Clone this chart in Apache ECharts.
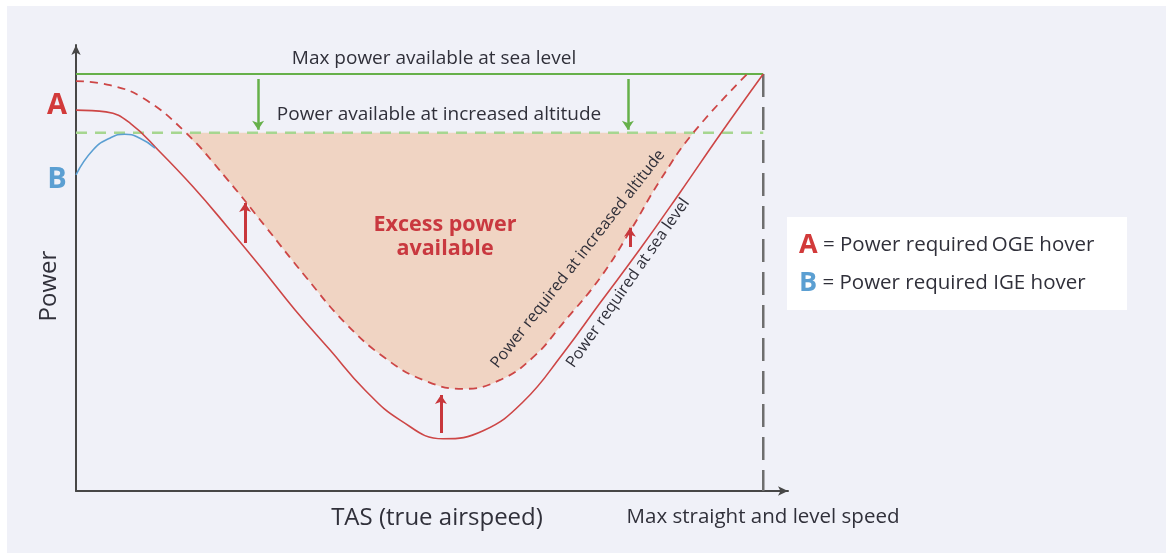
<!DOCTYPE html>
<html>
<head>
<meta charset="utf-8">
<script src="https://cdn.jsdelivr.net/npm/echarts@6/dist/echarts.min.js"></script>
<style>
html,body{margin:0;padding:0;background:#ffffff;}
#panel{position:absolute;left:7px;top:6px;width:1159px;height:547px;background:#f0f1f8;}
#chart{position:absolute;left:0;top:0;width:1166px;height:553px;}
</style>
</head>
<body>
<div id="panel"></div>
<div id="chart"></div>
<script>
// ---- data (abstract units: x = TAS, 100 = max straight & level speed; y = power) ----
const seaLevelAvail = 93.5;
const altitudeAvail = 80.3;
const maxSpeed = 100;

const reqSeaLevel = [
  [0,85.4],[4.37,85.0],[7.86,82.5],[12.23,76.0],[17.03,68.2],[21.83,59.6],[26.78,50.4],
  [31.88,40.6],[36.97,31.6],[42.07,22.6],[47.16,15.9],[53.42,11.7],[59.24,13.5],
  [65.07,20.0],[70.89,30.9],[76.27,42.2],[82.10,54.3],[87.92,67.0],[93.74,80.0],[100,93.5]
];
const reqAltitude = [
  [0,91.9],[4.95,91.0],[9.75,88.1],[15.87,80.5],[21.83,70.2],[27.51,59.4],[33.33,48.2],
  [39.16,37.7],[44.98,29.8],[50.51,24.9],[56.33,22.9],[61.72,24.9],[66.52,30.0],
  [70.89,37.7],[76.27,47.8],[80.64,58.3],[85.01,69.7],[89.81,80.3],[97.67,93.5]
];
const reqIGE = [
  [0,70.9],[2.5,76.5],[4.9,79.1],[7.1,80.0],[9.3,79.1],[11.5,76.9]
];
const arrowsDown = [
  [[26.5,92.4],[26.5,81.0]],
  [[80.3,92.4],[80.3,81.0]]
];
const arrowsUp = [
  [[24.6,55.6],[24.6,64.6]],
  [[53.1,13.0],[53.1,21.5]],
  [[80.6,54.7],[80.6,59.0]]
];

// ---- derived ----
const excessFill = reqAltitude.filter(p => p[1] <= altitudeAvail + 0.3);

const RED = '#cd4646';
const GREEN = '#66b04a';
const GREEN_L = '#a6d690';
const BLUE = '#5b9fd2';
const TXT = '#30303a';
const FONT = '"Open Sans", "Noto Sans", sans-serif';
const deg = Math.PI / 180;
const SM = 0.45;

const chart = echarts.init(document.getElementById('chart'), null, {renderer:'canvas'});
chart.setOption({
  backgroundColor: 'transparent',
  animation: false,
  grid: {left: 76, right: 378, top: 45, bottom: 62},
  xAxis: {
    type: 'value', min: 0, max: 103.6,
    axisLine: {show: true, onZero: false, symbol: ['none','arrow'], symbolSize: [7,10],
      lineStyle: {color: '#474747', width: 2}},
    axisTick: {show: false}, axisLabel: {show: false}, splitLine: {show: false}
  },
  yAxis: {
    type: 'value', min: 0, max: 100,
    axisLine: {show: true, onZero: false, symbol: ['none','arrow'], symbolSize: [7,10],
      lineStyle: {color: '#474747', width: 2}},
    axisTick: {show: false}, axisLabel: {show: false}, splitLine: {show: false}
  },
  series: [
    {
      type: 'line', name: 'excess', data: excessFill, smooth: SM, showSymbol: false,
      lineStyle: {width: 0, opacity: 0},
      areaStyle: {color: '#f0d4c3', opacity: 1, origin: altitudeAvail},
      z: 1, silent: true
    },
    {
      type: 'line', name: 'seaAvail', data: [[0,seaLevelAvail],[maxSpeed,seaLevelAvail]],
      showSymbol: false, lineStyle: {color: GREEN, width: 1.8}, z: 3
    },
    {
      type: 'line', name: 'altAvail', data: [[0,altitudeAvail],[maxSpeed,altitudeAvail]],
      showSymbol: false, lineStyle: {color: GREEN_L, width: 2.5, type: [11,8]}, z: 3
    },
    {
      type: 'line', name: 'reqAlt', data: reqAltitude, smooth: SM, showSymbol: false,
      lineStyle: {color: RED, width: 1.8, type: [8,6]}, z: 4
    },
    {
      type: 'line', name: 'reqSea', data: reqSeaLevel, smooth: SM, showSymbol: false,
      lineStyle: {color: RED, width: 1.6}, z: 4
    },
    {
      type: 'line', name: 'ige', data: reqIGE, smooth: 0.5, showSymbol: false,
      lineStyle: {color: BLUE, width: 1.6}, z: 4
    },
    {
      type: 'line', name: 'maxSpeed', data: [[maxSpeed,seaLevelAvail],[maxSpeed,0]],
      showSymbol: false, lineStyle: {color: '#6e6e6e', width: 2.5, type: [23,10]}, z: 3
    },
    {
      type: 'lines', coordinateSystem: 'cartesian2d', z: 5,
      symbol: ['none','arrow'], symbolSize: 9,
      lineStyle: {color: GREEN, width: 2.5, opacity: 1},
      data: arrowsDown.map(c => ({coords: c}))
    },
    {
      type: 'lines', coordinateSystem: 'cartesian2d', z: 5,
      symbol: ['none','arrow'], symbolSize: 9,
      lineStyle: {color: '#c8373c', width: 3, opacity: 1},
      data: arrowsUp.map(c => ({coords: c}))
    }
  ],
  graphic: [
    {type:'text', x:434, y:59, z:10, style:{text:'Max power available at sea level', font:'19px '+FONT, fill:TXT, align:'center', verticalAlign:'middle'}},
    {type:'text', x:439, y:115, z:10, style:{text:'Power available at increased altitude', font:'19px '+FONT, fill:TXT, align:'center', verticalAlign:'middle'}},
    {type:'text', x:445, y:225, z:10, style:{text:'Excess power', font:'bold 21.5px '+FONT, fill:'#c9383f', align:'center', verticalAlign:'middle'}},
    {type:'text', x:445, y:249, z:10, style:{text:'available', font:'bold 21.5px '+FONT, fill:'#c9383f', align:'center', verticalAlign:'middle'}},
    {type:'text', x:578, y:259, rotation:52*deg, z:10, style:{text:'Power required at increased altitude', font:'16px '+FONT, fill:TXT, align:'center', verticalAlign:'middle'}},
    {type:'text', x:628, y:283, rotation:55*deg, z:10, style:{text:'Power required at sea level', font:'16px '+FONT, fill:TXT, align:'center', verticalAlign:'middle'}},
    {type:'text', x:57, y:106, z:10, style:{text:'A', font:'bold 29px '+FONT, fill:'#d23a3a', align:'center', verticalAlign:'middle'}},
    {type:'text', x:57, y:180, z:10, style:{text:'B', font:'bold 29px '+FONT, fill:BLUE, align:'center', verticalAlign:'middle'}},
    {type:'text', x:49, y:286, rotation:90*deg, z:10, style:{text:'Power', font:'24px '+FONT, fill:TXT, align:'center', verticalAlign:'middle'}},
    {type:'text', x:437, y:518, z:10, style:{text:'TAS (true airspeed)', font:'24px '+FONT, fill:TXT, align:'center', verticalAlign:'middle'}},
    {type:'text', x:763, y:517, z:10, style:{text:'Max straight and level speed', font:'20.5px '+FONT, fill:TXT, align:'center', verticalAlign:'middle'}},
    {type:'rect', x:787, y:217, z:9, shape:{width:340, height:93}, style:{fill:'#ffffff'}},
    {type:'text', x:799, y:245, z:10, style:{
      text:'{a|A}{t| = Power required\u2009OGE hover}', align:'left', verticalAlign:'middle',
      rich:{a:{font:'bold 27px '+FONT, fill:'#d23a3a'}, t:{font:'20.5px '+FONT, fill:TXT}}}},
    {type:'text', x:799, y:283, z:10, style:{
      text:'{a|B}{t| = Power required IGE hover}', align:'left', verticalAlign:'middle',
      rich:{a:{font:'bold 27px '+FONT, fill:BLUE}, t:{font:'20.5px '+FONT, fill:TXT}}}}
  ]
});
</script>
</body>
</html>
